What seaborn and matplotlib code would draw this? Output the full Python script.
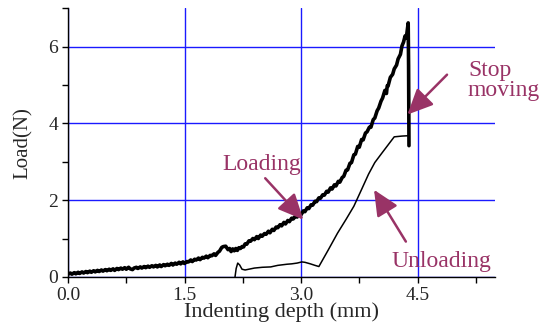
import matplotlib
matplotlib.use("Agg")
import matplotlib.pyplot as plt
import seaborn as sns
import pandas as pd

# ---- data ----
load_depth = [0.00, 0.03, 0.05, 0.08, 0.10, 0.13, 0.15, 0.18, 0.20, 0.23, 0.25, 0.28, 0.30, 0.33, 0.35, 0.38,
              0.40, 0.43, 0.45, 0.48, 0.50, 0.53, 0.55, 0.58, 0.60, 0.63, 0.65, 0.68, 0.70, 0.73,
              0.75, 0.78, 0.80, 0.83, 0.85, 0.88, 0.90, 0.93, 0.95, 0.98, 1.00, 1.03, 1.05, 1.08, 1.10,
              1.13, 1.15, 1.18, 1.20, 1.23, 1.25, 1.28, 1.30, 1.33, 1.35, 1.38, 1.40, 1.43, 1.45, 1.48,
              1.50, 1.53, 1.55, 1.58, 1.60, 1.63, 1.65, 1.68, 1.70, 1.73, 1.75, 1.78, 1.80, 1.83, 1.85,
              1.88, 1.90, 1.93, 1.95, 1.98, 2.00, 2.03, 2.06, 2.08, 2.10, 2.12, 2.14, 2.16, 2.18, 2.20,
              2.22, 2.24, 2.26, 2.28, 2.30, 2.33, 2.35, 2.38, 2.40, 2.43, 2.45, 2.48, 2.50, 2.53, 2.55,
              2.58, 2.60, 2.63, 2.65, 2.68, 2.70, 2.73, 2.75, 2.78, 2.80, 2.83, 2.85, 2.88, 2.90, 2.93,
              2.95, 2.98, 3.00, 3.03, 3.05, 3.08, 3.10, 3.13, 3.15, 3.18, 3.20, 3.23, 3.25, 3.28, 3.30,
              3.33, 3.35, 3.38, 3.40, 3.43, 3.45, 3.48, 3.50, 3.53, 3.55, 3.58, 3.60, 3.63, 3.65, 3.68,
              3.70, 3.73, 3.75, 3.78, 3.80, 3.83, 3.85, 3.88, 3.90, 3.93, 3.95, 3.98, 4.00, 4.03, 4.05,
              4.08, 4.10, 4.11, 4.12, 4.15, 4.18, 4.20, 4.23, 4.25, 4.28, 4.30, 4.32, 4.34, 4.35, 4.36,
              4.37, 4.38, 4.385, 4.39]
load_force = [0.07, 0.10, 0.07, 0.11, 0.08, 0.12, 0.09, 0.13, 0.10, 0.14, 0.11, 0.15, 0.12, 0.16, 0.13, 0.17,
              0.14, 0.18, 0.15, 0.19, 0.16, 0.20, 0.17, 0.21, 0.17, 0.22, 0.19, 0.23, 0.20, 0.24,
              0.20, 0.25, 0.21, 0.19, 0.23, 0.25, 0.22, 0.26, 0.23, 0.27, 0.24, 0.28, 0.25, 0.29, 0.26,
              0.30, 0.26, 0.31, 0.27, 0.32, 0.29, 0.33, 0.30, 0.35, 0.31, 0.36, 0.33, 0.38, 0.34, 0.39,
              0.35, 0.40, 0.39, 0.44, 0.40, 0.46, 0.44, 0.49, 0.45, 0.51, 0.49, 0.54, 0.50, 0.56, 0.55,
              0.60, 0.56, 0.64, 0.67, 0.77, 0.79, 0.80, 0.71, 0.74, 0.66, 0.73, 0.68, 0.74, 0.69, 0.76,
              0.74, 0.79, 0.78, 0.86, 0.85, 0.94, 0.93, 1.00, 0.97, 1.05, 1.00, 1.09, 1.06, 1.13, 1.11,
              1.19, 1.15, 1.24, 1.21, 1.30, 1.28, 1.36, 1.33, 1.42, 1.38, 1.47, 1.44, 1.53, 1.51, 1.59,
              1.56, 1.65, 1.62, 1.72, 1.70, 1.80, 1.78, 1.88, 1.87, 1.97, 1.96, 2.06, 2.05, 2.14, 2.13,
              2.23, 2.21, 2.32, 2.29, 2.40, 2.37, 2.49, 2.47, 2.59, 2.62, 2.78, 2.79, 2.96, 2.98, 3.18,
              3.20, 3.40, 3.38, 3.58, 3.57, 3.75, 3.78, 3.90, 3.90, 4.10, 4.14, 4.33, 4.40, 4.58, 4.66,
              4.86, 4.78, 4.98, 4.97, 5.20, 5.28, 5.42, 5.52, 5.68, 5.80, 6.02, 6.12, 6.28, 6.22, 6.30,
              6.45, 6.62, 5.50, 3.42]

unload_depth = [4.39, 4.30, 4.20, 4.05, 3.95, 3.87, 3.78, 3.68, 3.58, 3.47, 3.35, 3.23, 3.18, 3.12,
                3.05, 3.01, 2.95, 2.88, 2.82, 2.70, 2.61, 2.50, 2.40, 2.28, 2.24, 2.21, 2.185, 2.165, 2.15]
unload_force = [3.68, 3.67, 3.65, 3.25, 2.98, 2.68, 2.28, 1.84, 1.50, 1.14, 0.70, 0.27, 0.30, 0.34,
                0.38, 0.39, 0.36, 0.34, 0.33, 0.30, 0.26, 0.25, 0.23, 0.18, 0.20, 0.31, 0.36, 0.22, 0.00]

x_ticks = [0.0, 1.5, 3.0, 4.5]
x_tick_labels = ["0.0", "1.5", "3.0", "4.5"]
y_ticks = [0, 2, 4, 6]
y_tick_labels = ["0", "2", "4", "6"]

assert len(load_depth) == len(load_force)
df_load = pd.DataFrame({"depth": load_depth, "load": load_force})
df_unload = pd.DataFrame({"depth": unload_depth, "load": unload_force})

sns.set_style("ticks")
plt.rcParams["font.family"] = ["Liberation Serif", "DejaVu Serif"]

fig = plt.figure(figsize=(5.4, 3.32), dpi=100)
ax = fig.add_axes([0.126, 0.166, 0.791, 0.809])

ax.grid(True, which="major", color="#1a1aff", linewidth=1.0)
ax.set_axisbelow(True)

sns.lineplot(data=df_load, x="depth", y="load", sort=False, estimator=None,
             color="black", linewidth=2.6, ax=ax)
sns.lineplot(data=df_unload, x="depth", y="load", sort=False, estimator=None,
             color="black", linewidth=1.1, ax=ax)

ax.set_xlim(0, 5.5)
ax.set_ylim(0, 7.0)
ax.set_xticks(x_ticks)
ax.set_xticklabels(x_tick_labels)
ax.set_yticks(y_ticks)
ax.set_yticklabels(y_tick_labels)
ax.set_xticks([0.75, 2.25, 3.75, 5.25], minor=True)
ax.set_yticks([1, 3, 5, 7], minor=True)
ax.grid(False, which="minor")

ax.tick_params(which="both", direction="out", length=4, width=1, color="black")
ax.tick_params(axis="x", labelsize=14, pad=3)
ax.tick_params(axis="y", labelsize=14, pad=3)

for s in ["top", "right"]:
    ax.spines[s].set_visible(False)
for s in ["left", "bottom"]:
    ax.spines[s].set_color("black")
    ax.spines[s].set_linewidth(1.0)

ax.set_xlabel("Indenting depth (mm)", fontsize=16, labelpad=-1)
ax.set_ylabel("Load(N)", fontsize=15, labelpad=11)

acol = "#993366"
aprops = dict(arrowstyle="-|>,head_length=1.3,head_width=0.6", color=acol, lw=1.8,
              mutation_scale=12, shrinkA=0, shrinkB=0)

ax.annotate("Loading", xy=(3.03, 1.49), xytext=(2.50, 2.93), color=acol, fontsize=17,
            ha="center", va="center", arrowprops=dict(aprops, relpos=(0.5, 0.0)))
ax.text(5.15, 5.66, "Stop\nmoving", color=acol, fontsize=17, ha="left", va="top",
        linespacing=0.95, clip_on=False)
ax.annotate("", xy=(4.37, 4.23), xytext=(4.88, 5.27), arrowprops=aprops, annotation_clip=False)
ax.annotate("", xy=(3.94, 2.27), xytext=(4.35, 0.92), arrowprops=aprops)
ax.text(4.81, 0.39, "Unloading", color=acol, fontsize=17, ha="center", va="center")

fig.savefig("out.png", dpi=100)
